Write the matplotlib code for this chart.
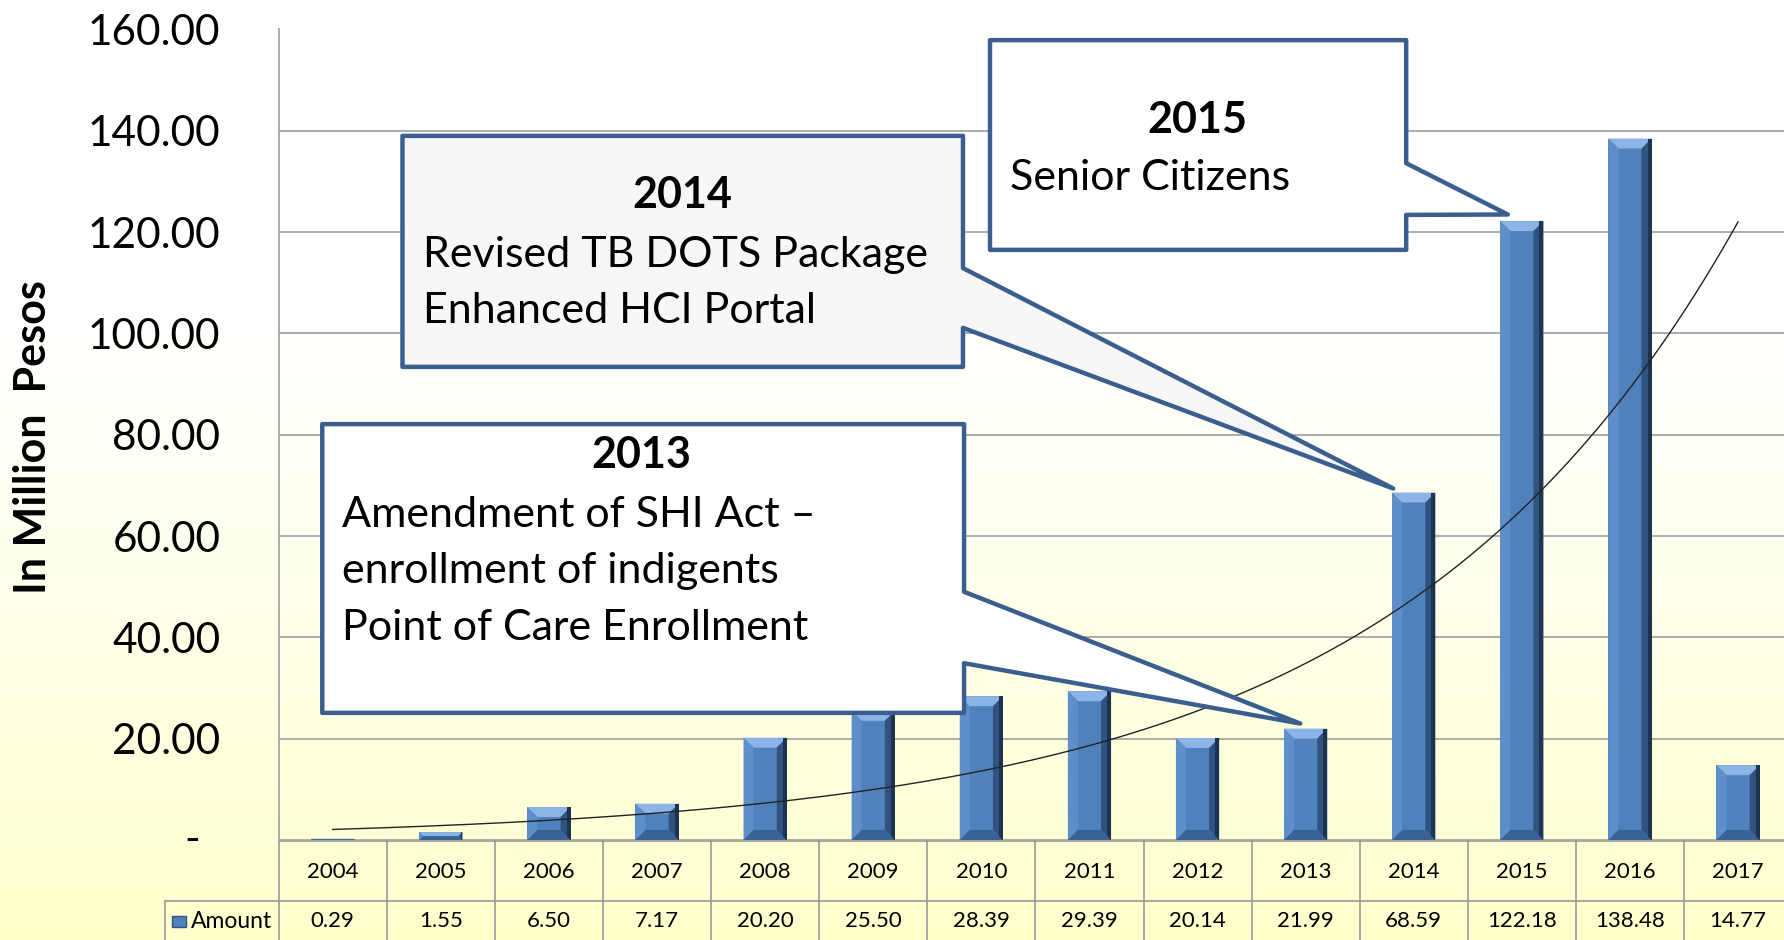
import numpy as np
import matplotlib
matplotlib.use("Agg")
import matplotlib.pyplot as plt
from matplotlib.patches import Polygon, Rectangle
from matplotlib.transforms import blended_transform_factory

plt.rcParams['font.family'] = ['Lato', 'DejaVu Sans']

# dados
years = ['2004', '2005', '2006', '2007', '2008', '2009', '2010',
         '2011', '2012', '2013', '2014', '2015', '2016', '2017']
amount = [0.29, 1.55, 6.50, 7.17, 20.20, 25.50, 28.39,
          29.39, 20.14, 21.99, 68.59, 122.18, 138.48, 14.77]
yticks = [0, 20, 40, 60, 80, 100, 120, 140, 160]
series_name = 'Amount'
ylabel = 'In Million  Pesos'

# textos dos balões: (ano, linhas)
callout_2015 = ('2015', ['Senior Citizens'])
callout_2014 = ('2014', ['Revised TB DOTS Package', 'Enhanced HCI Portal'])
callout_2013 = ('2013', ['Amendment of SHI Act –', 'enrollment of indigents',
                         'Point of Care Enrollment'])

W, H = 1784, 940
BLUE = '#4F81BD'
EDGE = '#3A5F8E'
GRID = '#A6A6A6'

fig = plt.figure(figsize=(W / 100, H / 100), dpi=100)

# fundo em degrade (branco -> amarelo claro)
bg = fig.add_axes([0, 0, 1, 1], zorder=-10)
t = np.linspace(0, 1, 300)[:, None]
s = np.clip((t - 0.3) / 0.7, 0, 1) ** 1.3
top = np.array([1.0, 1.0, 1.0])
bot = np.array([1.0, 1.0, 0.80])
grad = (top[None, None, :] * (1 - s[..., None]) + bot[None, None, :] * s[..., None])
grad = np.repeat(grad, 2, axis=1)
bg.imshow(grad, aspect='auto', extent=[0, 1, 0, 1], origin='upper')
bg.axis('off')

# eixo principal
x0, y0 = 278.7, 840.0
cat_w = 108.1
ax = fig.add_axes([x0 / W, (H - y0) / H, 14 * cat_w / W, (y0 - 29.5) / H])
ax.set_facecolor('none')
ax.set_xlim(-0.5, 13.5)
ax.set_ylim(0, 160)
idx = np.arange(len(years))

# barras com chanfro
bw = 0.4
ax.bar(idx, amount, width=bw, color=BLUE, edgecolor='none', zorder=3)
bx = 10 / cat_w
by = 10 / 5.066
for i, v in zip(idx, amount):
    l, r = i - bw / 2, i + bw / 2
    k = min(1.0, (v / 2) / by)
    hx, hy = bx * k, by * k
    ax.add_patch(Polygon([(l, v), (r, v), (r - hx, v - hy), (l + hx, v - hy)],
                         closed=True, color='#8DB4E6', lw=0, zorder=4))
    ax.add_patch(Polygon([(r, v), (r, 0), (r - hx, hy), (r - hx, v - hy)],
                         closed=True, color='#2F527E', lw=0, zorder=4))
    ax.add_patch(Rectangle((r - hx * 0.4, 0), hx * 0.4, v, color='#1C3351', lw=0, zorder=4))
    ax.add_patch(Polygon([(l, v), (l + hx, v - hy), (l + hx, hy), (l, 0)],
                         closed=True, color='#5F8FCB', lw=0, zorder=4))
    ax.add_patch(Polygon([(l, 0), (r, 0), (r - hx, hy), (l + hx, hy)],
                         closed=True, color='#3B6296', lw=0, zorder=4))

# linha de tendencia exponencial (ajuste dos dados)
coef = np.polyfit(idx, np.log(amount), 1)
xt = np.linspace(0, 13, 200)
ax.plot(xt, np.exp(np.polyval(coef, xt)), color='#222222', lw=1.0, zorder=5)

# grade e eixos (o zero aparece como "-", formato contabil)
ax.set_yticks(yticks)
ax.set_yticklabels([''] + ['%.2f' % v for v in yticks[1:]], fontsize=30.5)
ax.tick_params(axis='y', length=0, pad=42)
ax.set_xticks([])
ax.grid(axis='y', color=GRID, lw=1.3, zorder=0)
for sp in ['top', 'right', 'bottom']:
    ax.spines[sp].set_visible(False)
ax.spines['left'].set_color(GRID)
ax.spines['left'].set_linewidth(1.3)
ty = blended_transform_factory(fig.transFigure, ax.transData)
ax.text(192 / W, yticks[0], '-', transform=ty, ha='center', va='center', fontsize=30.5)
fig.text(33 / W, 1 - 437 / H, ylabel, rotation=90, fontsize=31, fontweight='bold',
         ha='center', va='center')

# balões de texto
def balao(ax, caixa, cauda, ponta, fill, titulo, linhas, tpos, lx, bases, fs):
    xa, xb, ya, yb = caixa
    pts = [(xa, yb), (xb, yb), (xb, cauda[0]), ponta, (xb, cauda[1]), (xb, ya), (xa, ya)]
    ax.add_patch(Polygon(pts, closed=True, facecolor=fill, edgecolor=EDGE, lw=3.2,
                         joinstyle='round', zorder=8, clip_on=False))
    ax.text(tpos[0], tpos[1], titulo, ha='center', va='baseline', fontsize=fs,
            fontweight='bold', zorder=9)
    for ln, yb_ in zip(linhas, bases):
        ax.text(lx, yb_, ln, ha='left', va='baseline', fontsize=fs, zorder=9)

i15, i14, i13 = years.index('2015'), years.index('2014'), years.index('2013')
balao(ax, (6.08, 9.93, 116.5, 157.9), (133.6, 123.4),
      (i15 - 0.13, amount[i15] + 1.3), 'white', callout_2015[0], callout_2015[1],
      (8.0, 139.5), 6.265, [128.4], 31)
balao(ax, (0.645, 5.83, 93.4, 139.0), (112.9, 101.1),
      (i14 - 0.19, amount[i14] + 0.8), '#F7F7F7', callout_2014[0], callout_2014[1],
      (3.235, 124.7), 0.832, [113.2, 102.0], 31)
balao(ax, (-0.097, 5.84, 25.1, 82.1), (49.0, 34.9),
      (i13 - 0.05, amount[i13] + 1.0), 'white', callout_2013[0], callout_2013[1],
      (2.856, 73.4), 0.089, [61.8, 50.7, 39.5], 31)

# tabela de dados abaixo do grafico
tr = blended_transform_factory(ax.transData, fig.transFigure)
row1_top = 1 - 841 / H
row1_bot = 1 - 900.7 / H
lc = '#9A9A9A'
ax.plot([-0.5, 13.5], [row1_top, row1_top], color=lc, lw=1.2, transform=tr, clip_on=False)
for b in np.arange(-0.5, 14, 1.0):
    ax.plot([b, b], [0, row1_top], color=lc, lw=1.2, transform=tr, clip_on=False)
fig.add_artist(plt.Line2D([164.8 / W, 1], [row1_bot, row1_bot], color=lc, lw=1.2))
fig.add_artist(plt.Line2D([164.8 / W, 164.8 / W], [0, row1_bot], color=lc, lw=1.2))
for i, (yr, v) in enumerate(zip(years, amount)):
    ax.text(i, 1 - 872 / H, yr, transform=tr, ha='center', va='center', fontsize=16)
    ax.text(i, 1 - 921 / H, '%.2f' % v, transform=tr, ha='center', va='center', fontsize=16)
fig.add_artist(Rectangle((172 / W, 1 - 927 / H), 14 / W, 11 / H, transform=fig.transFigure,
                         facecolor=BLUE, edgecolor='#2F527E', lw=1))
fig.text(191 / W, 1 - 921 / H, series_name, ha='left', va='center', fontsize=16.5)

fig.savefig('out.png', dpi=100)
